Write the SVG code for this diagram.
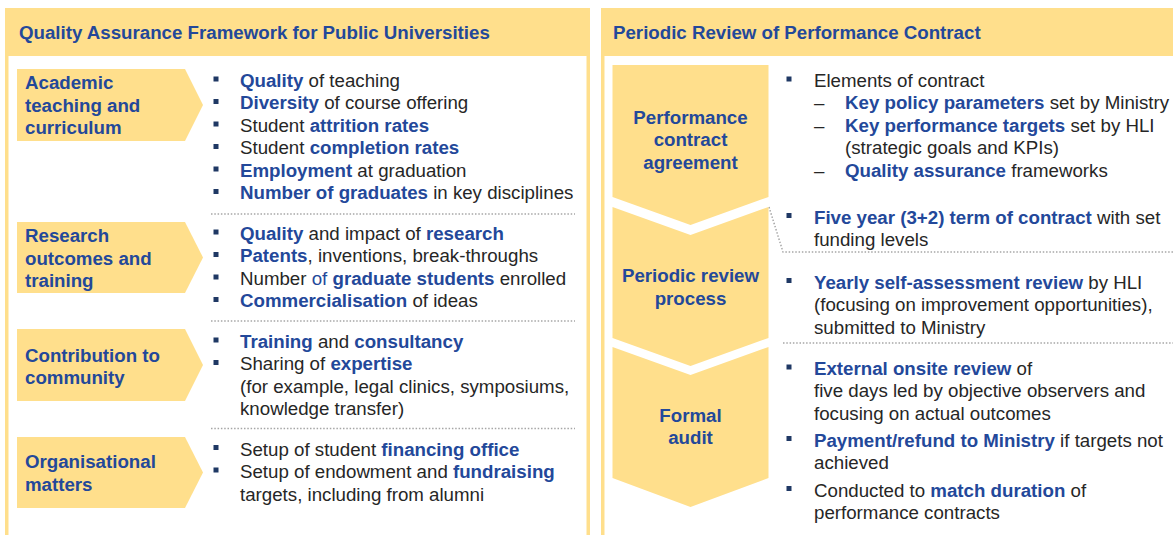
<svg xmlns="http://www.w3.org/2000/svg" width="1173" height="535" viewBox="0 0 1173 535">
<style>
text{font-family:"Liberation Sans",Arial,sans-serif;font-size:18.7px;fill:#262626}
.h{font-weight:bold;fill:#23489A}
.b{font-weight:bold;fill:#23489A}
.bl{fill:#23489A}
.lbl{font-weight:bold;fill:#23489A}
.c{text-anchor:middle}
.shape{fill:#FFDF8C}
.bul{fill:#1F3864}
.dot{fill:none;stroke:#A6A6A6;stroke-width:1.5;stroke-dasharray:1.5 1.8}
</style>
<rect width="1173" height="535" fill="#fff"/>
<g id="panel-left">
<rect x="5" y="8" width="585" height="540" class="shape"/>
<rect x="8.5" y="56" width="578" height="490" fill="#fff"/>
<text x="19" y="38.5" class="h">Quality Assurance Framework for Public Universities</text>
</g>
<g id="panel-right">
<rect x="601" y="8" width="580" height="540" class="shape"/>
<rect x="604.5" y="56" width="580" height="490" fill="#fff"/>
<text x="613" y="38.5" class="h">Periodic Review of Performance Contract</text>
</g>
<g id="connectors">
<line x1="211" y1="214" x2="575" y2="214" class="dot"/>
<line x1="211" y1="321" x2="575" y2="321" class="dot"/>
<line x1="211" y1="428.5" x2="575" y2="428.5" class="dot"/>
<polyline points="769,207 783,252 1173,252" class="dot"/>
<line x1="783" y1="343" x2="1173" y2="343" class="dot"/>
</g>
<g id="node-academic">
<polygon points="17,69 185,69 203,105 185,141 17,141" class="shape"/>
<text x="25" y="89" class="lbl">Academic</text>
<text x="25" y="111.5" class="lbl">teaching and</text>
<text x="25" y="134" class="lbl">curriculum</text>
</g>
<g id="list-academic">
<rect x="213.5" y="76.5" width="5" height="5" class="bul"/>
<rect x="213.5" y="99" width="5" height="5" class="bul"/>
<rect x="213.5" y="121.5" width="5" height="5" class="bul"/>
<rect x="213.5" y="144" width="5" height="5" class="bul"/>
<rect x="213.5" y="166.5" width="5" height="5" class="bul"/>
<rect x="213.5" y="189" width="5" height="5" class="bul"/>
<text x="240" y="86.7"><tspan class="b">Quality</tspan> of teaching</text>
<text x="240" y="109.2"><tspan class="b">Diversity</tspan> of course offering</text>
<text x="240" y="131.7">Student <tspan class="b">attrition rates</tspan></text>
<text x="240" y="154.2">Student <tspan class="b">completion rates</tspan></text>
<text x="240" y="176.7"><tspan class="b">Employment</tspan> at graduation</text>
<text x="240" y="199.2"><tspan class="b">Number of graduates</tspan> in key disciplines</text>
</g>
<g id="node-research">
<polygon points="17,222 185,222 203,257.5 185,293 17,293" class="shape"/>
<text x="25" y="242" class="lbl">Research</text>
<text x="25" y="264.5" class="lbl">outcomes and</text>
<text x="25" y="287" class="lbl">training</text>
</g>
<g id="list-research">
<rect x="213.5" y="229.5" width="5" height="5" class="bul"/>
<rect x="213.5" y="252" width="5" height="5" class="bul"/>
<rect x="213.5" y="274.5" width="5" height="5" class="bul"/>
<rect x="213.5" y="297" width="5" height="5" class="bul"/>
<text x="240" y="239.7"><tspan class="b">Quality</tspan> and impact of <tspan class="b">research</tspan></text>
<text x="240" y="262.2"><tspan class="b">Patents</tspan>, inventions, break-throughs</text>
<text x="240" y="284.7">Number <tspan class="bl">of</tspan> <tspan class="b">graduate students</tspan> enrolled</text>
<text x="240" y="307.2"><tspan class="b">Commercialisation</tspan> of ideas</text>
</g>
<g id="node-community">
<polygon points="17,329 185,329 203,365 185,401 17,401" class="shape"/>
<text x="25" y="361.5" class="lbl">Contribution to</text>
<text x="25" y="384" class="lbl">community</text>
</g>
<g id="list-community">
<rect x="213.5" y="337.5" width="5" height="5" class="bul"/>
<rect x="213.5" y="360" width="5" height="5" class="bul"/>
<text x="240" y="347.7"><tspan class="b">Training</tspan> and <tspan class="b">consultancy</tspan></text>
<text x="240" y="370.2">Sharing of <tspan class="b">expertise</tspan></text>
<text x="240" y="392.7">(for example, legal clinics, symposiums,</text>
<text x="240" y="415.2">knowledge transfer)</text>
</g>
<g id="node-organisational">
<polygon points="17,437 185,437 203,472.5 185,508 17,508" class="shape"/>
<text x="25" y="468" class="lbl">Organisational</text>
<text x="25" y="490.5" class="lbl">matters</text>
</g>
<g id="list-organisational">
<rect x="213.5" y="445" width="5" height="5" class="bul"/>
<rect x="213.5" y="467.5" width="5" height="5" class="bul"/>
<text x="240" y="455.5">Setup of student <tspan class="b">financing office</tspan></text>
<text x="240" y="478">Setup of endowment and <tspan class="b">fundraising</tspan></text>
<text x="240" y="500.5">targets, including from alumni</text>
</g>
<g id="node-agreement">
<polygon points="612.5,65 768.5,65 768.5,197 690.5,225 612.5,197" class="shape"/>
<text x="690.5" y="123.7" class="lbl c">Performance</text>
<text x="690.5" y="146.2" class="lbl c">contract</text>
<text x="690.5" y="168.7" class="lbl c">agreement</text>
</g>
<g id="list-agreement">
<rect x="786.5" y="76.5" width="5" height="5" class="bul"/>
<text x="814" y="86.7">Elements of contract</text>
<text x="814" y="109.2">–</text>
<text x="845" y="109.2"><tspan class="b">Key policy parameters</tspan> set by Ministry</text>
<text x="814" y="131.7">–</text>
<text x="845" y="131.7"><tspan class="b">Key performance targets</tspan> set by HLI</text>
<text x="845" y="154.2">(strategic goals and KPIs)</text>
<text x="814" y="176.7">–</text>
<text x="845" y="176.7"><tspan class="b">Quality assurance</tspan> frameworks</text>
</g>
<g id="node-review">
<polygon points="612.5,207 690.5,235 768.5,207 768.5,338 690.5,366 612.5,338" class="shape"/>
<text x="690.5" y="282" class="lbl c">Periodic review</text>
<text x="690.5" y="304.5" class="lbl c">process</text>
</g>
<g id="list-review">
<rect x="786.5" y="213" width="5" height="5" class="bul"/>
<rect x="786.5" y="278" width="5" height="5" class="bul"/>
<text x="814" y="223.5"><tspan class="b">Five year (3+2) term of contract</tspan> with set</text>
<text x="814" y="246">funding levels</text>
<text x="814" y="288.5"><tspan class="b">Yearly self-assessment review</tspan> by HLI</text>
<text x="814" y="311">(focusing on improvement opportunities),</text>
<text x="814" y="333.5">submitted to Ministry</text>
</g>
<g id="node-audit">
<polygon points="612.5,347 690.5,375 768.5,347 768.5,478 690.5,507 612.5,478" class="shape"/>
<text x="690.5" y="421.7" class="lbl c">Formal</text>
<text x="690.5" y="444.2" class="lbl c">audit</text>
</g>
<g id="list-audit">
<rect x="786.5" y="364.5" width="5" height="5" class="bul"/>
<rect x="786.5" y="436" width="5" height="5" class="bul"/>
<rect x="786.5" y="486" width="5" height="5" class="bul"/>
<text x="814" y="375"><tspan class="b">External onsite review</tspan> of</text>
<text x="814" y="397.3">five days led by objective observers and</text>
<text x="814" y="419.6">focusing on actual outcomes</text>
<text x="814" y="446.7"><tspan class="b">Payment/refund to Ministry</tspan> if targets not</text>
<text x="814" y="469">achieved</text>
<text x="814" y="496.7">Conducted to <tspan class="b">match duration</tspan> of</text>
<text x="814" y="519">performance contracts</text>
</g>
</svg>
